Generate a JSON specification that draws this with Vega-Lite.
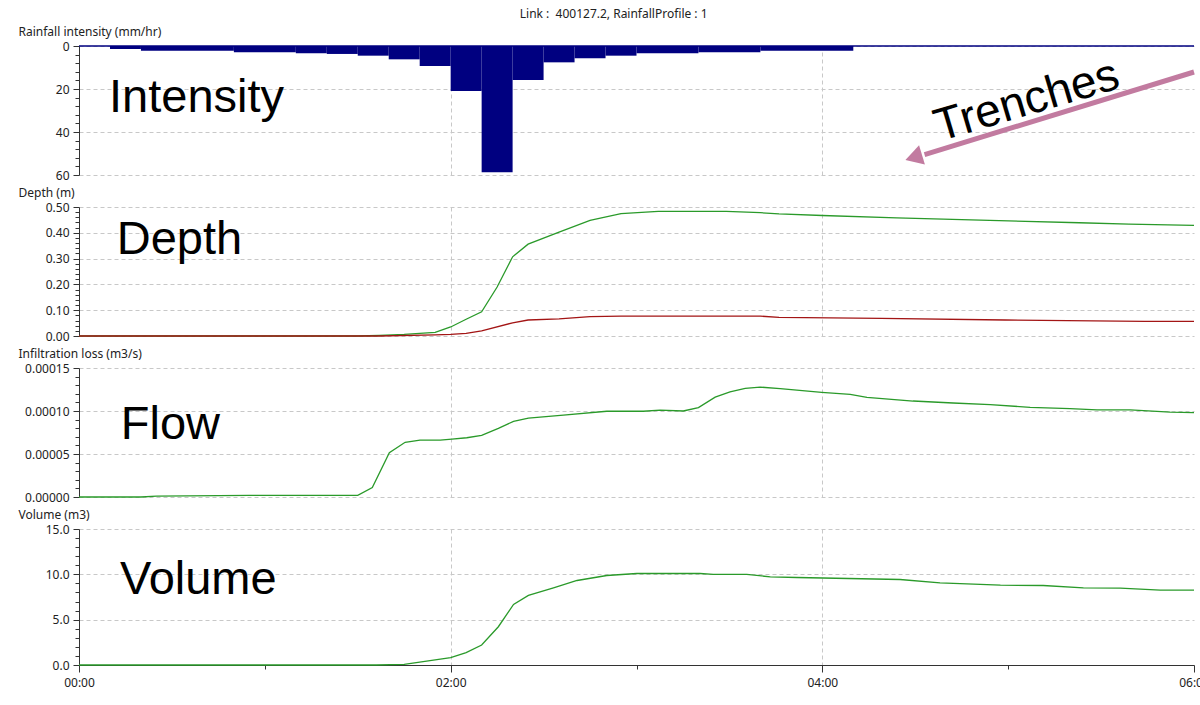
{
  "$schema": "https://vega.github.io/schema/vega-lite/v6.json",
  "background": "white",
  "padding": {"left": 18, "top": 8, "right": 0, "bottom": 12},
  "title": {"text": "Link : \u00a0400127.2, RainfallProfile : 1", "fontSize": 12, "font": "Noto Sans", "fontWeight": "normal", "color": "#222", "anchor": "middle", "offset": 4},
  "bounds": "flush",
  "spacing": 32,
  "resolve": {"scale": {"y": "independent"}},
  "config": {
    "view": {"stroke": null},
    "axis": {"labelFont": "Noto Sans", "labelFontSize": 12, "labelColor": "#222", "titleFont": "Noto Sans", "titleFontSize": 12, "titleFontWeight": "normal", "titleColor": "#222", "gridColor": "#c8c8c8", "gridDash": [4, 3], "domainColor": "#333", "tickColor": "#333", "labelPadding": 4, "labelOverlap": false, "tickSize": 5}
  },
  "datasets": {
    "rain": [
      {"t0": 10, "t1": 20, "v": 1.4}, {"t0": 20, "t1": 50, "v": 2.2}, {"t0": 50, "t1": 70, "v": 2.9},
      {"t0": 70, "t1": 80, "v": 3.4}, {"t0": 80, "t1": 90, "v": 3.7}, {"t0": 90, "t1": 100, "v": 4.5},
      {"t0": 100, "t1": 110, "v": 6.2}, {"t0": 110, "t1": 120, "v": 9.3}, {"t0": 120, "t1": 130, "v": 20.9},
      {"t0": 130, "t1": 140, "v": 58.7}, {"t0": 140, "t1": 150, "v": 15.8}, {"t0": 150, "t1": 160, "v": 7.6},
      {"t0": 160, "t1": 170, "v": 5.7}, {"t0": 170, "t1": 180, "v": 4.5}, {"t0": 180, "t1": 200, "v": 3.4},
      {"t0": 200, "t1": 220, "v": 2.9}, {"t0": 220, "t1": 250, "v": 2.2}
    ],
    "depthA": [
      {"t": 0, "v": 0}, {"t": 90, "v": 0}, {"t": 97, "v": 0.002}, {"t": 105, "v": 0.006}, {"t": 115, "v": 0.014},
      {"t": 120, "v": 0.035}, {"t": 125, "v": 0.065}, {"t": 130, "v": 0.094}, {"t": 135, "v": 0.19},
      {"t": 140, "v": 0.307}, {"t": 145, "v": 0.356}, {"t": 155, "v": 0.403}, {"t": 165, "v": 0.448},
      {"t": 175, "v": 0.474}, {"t": 187, "v": 0.483}, {"t": 209, "v": 0.483}, {"t": 220, "v": 0.478},
      {"t": 226, "v": 0.473}, {"t": 240, "v": 0.467}, {"t": 264, "v": 0.458}, {"t": 294, "v": 0.448},
      {"t": 323, "v": 0.439}, {"t": 339, "v": 0.434}, {"t": 360, "v": 0.429}
    ],
    "depthB": [
      {"t": 0, "v": 0}, {"t": 97, "v": 0}, {"t": 115, "v": 0.004}, {"t": 120, "v": 0.006}, {"t": 125, "v": 0.01},
      {"t": 130, "v": 0.02}, {"t": 140, "v": 0.051}, {"t": 145, "v": 0.062}, {"t": 155, "v": 0.066},
      {"t": 165, "v": 0.075}, {"t": 175, "v": 0.077}, {"t": 220, "v": 0.077}, {"t": 226, "v": 0.072},
      {"t": 259, "v": 0.068}, {"t": 299, "v": 0.062}, {"t": 344, "v": 0.057}, {"t": 360, "v": 0.057}
    ],
    "flow": [
      {"t": 0, "v": 0}, {"t": 20, "v": 0}, {"t": 25, "v": 0.000001}, {"t": 55, "v": 0.000002}, {"t": 90, "v": 0.000002},
      {"t": 94.7, "v": 0.000011}, {"t": 100.2, "v": 0.0000514}, {"t": 105.3, "v": 0.0000636}, {"t": 110.1, "v": 0.0000662},
      {"t": 116.6, "v": 0.0000662}, {"t": 120.4, "v": 0.0000674}, {"t": 125.2, "v": 0.0000689}, {"t": 130, "v": 0.0000717},
      {"t": 135.4, "v": 0.0000799}, {"t": 140.3, "v": 0.000088}, {"t": 145.1, "v": 0.0000918}, {"t": 156.4, "v": 0.0000953},
      {"t": 170.4, "v": 0.0000997}, {"t": 182.2, "v": 0.0000997}, {"t": 187.6, "v": 0.000101}, {"t": 195.1, "v": 0.0001},
      {"t": 200, "v": 0.0001039}, {"t": 205.4, "v": 0.0001161}, {"t": 210.2, "v": 0.0001223}, {"t": 215.1, "v": 0.0001262},
      {"t": 219.9, "v": 0.0001278}, {"t": 226.4, "v": 0.0001259}, {"t": 239.8, "v": 0.0001217}, {"t": 249, "v": 0.0001194},
      {"t": 254.4, "v": 0.0001159}, {"t": 269.3, "v": 0.0001116}, {"t": 282.2, "v": 0.0001093}, {"t": 294.2, "v": 0.0001073},
      {"t": 307.1, "v": 0.0001043}, {"t": 320, "v": 0.0001027}, {"t": 328.7, "v": 0.0001012}, {"t": 339.4, "v": 0.0001012},
      {"t": 352.3, "v": 0.0000988}, {"t": 360, "v": 0.000098}
    ],
    "volume": [
      {"t": 0, "v": 0}, {"t": 96, "v": 0}, {"t": 105, "v": 0.08}, {"t": 120, "v": 0.81}, {"t": 125, "v": 1.36},
      {"t": 130, "v": 2.2}, {"t": 135.4, "v": 4.22}, {"t": 140.3, "v": 6.68}, {"t": 145.1, "v": 7.67},
      {"t": 153.2, "v": 8.51}, {"t": 160.8, "v": 9.32}, {"t": 170.4, "v": 9.87}, {"t": 180.1, "v": 10.09},
      {"t": 200.5, "v": 10.09}, {"t": 204.8, "v": 10.0}, {"t": 215.6, "v": 10.0}, {"t": 223.2, "v": 9.72},
      {"t": 231.8, "v": 9.65}, {"t": 265.1, "v": 9.43}, {"t": 278, "v": 9.06}, {"t": 297.5, "v": 8.8},
      {"t": 311.3, "v": 8.77}, {"t": 324.3, "v": 8.51}, {"t": 336.2, "v": 8.47}, {"t": 349.1, "v": 8.25},
      {"t": 360, "v": 8.25}
    ]
  },
  "vconcat": [
    {
      "width": 1115, "height": 129,
      "layer": [
        {
          "data": {"name": "rain"},
          "mark": {"type": "bar", "color": "#000080"},
          "encoding": {
            "x": {"field": "t0", "type": "quantitative", "scale": {"domain": [0, 360], "nice": false},
                  "axis": {"title": null, "values": [120, 240], "labels": false, "ticks": false, "domain": false, "grid": true}},
            "x2": {"field": "t1"},
            "y": {"field": "v", "type": "quantitative", "scale": {"domain": [0, 60], "reverse": true, "nice": false},
                  "axis": {"title": "Rainfall intensity (mm/hr)", "titleAngle": 0, "titleAlign": "left", "titleBaseline": "middle", "titleX": -61, "titleY": -15,
                           "values": [0, 4, 8, 12, 16, 20, 24, 28, 32, 36, 40, 44, 48, 52, 56, 60], "tickCount": 100,
                           "format": "d",
                           "labelExpr": "datum.value % 20 == 0 ? datum.label : ''",
                           "tickSize": {"condition": {"test": "datum.value % 20 == 0", "value": 6}, "value": 4},
                           "gridOpacity": {"condition": {"test": "datum.value % 20 == 0", "value": 1}, "value": 0}}},
            "y2": {"datum": 0}
          }
        },
        {
          "data": {"values": [{}]},
          "mark": {"type": "rule", "color": "#000080", "strokeWidth": 1.5},
          "encoding": {"y": {"datum": 0}}
        },
        {
          "data": {"values": [{}]},
          "mark": {"type": "text", "font": "Liberation Sans", "fontSize": 47, "align": "left", "baseline": "alphabetic", "color": "black"},
          "encoding": {"x": {"datum": 9.7}, "y": {"datum": 30.6}, "text": {"value": "Intensity"}}
        },
        {
          "data": {"values": [{}]},
          "mark": {"type": "text", "font": "Liberation Sans", "fontSize": 46, "align": "center", "baseline": "middle", "angle": -16.5, "color": "black"},
          "encoding": {"x": {"datum": 306}, "y": {"datum": 25.6}, "text": {"value": "Trenches"}}
        },
        {
          "data": {"values": [{}]},
          "mark": {"type": "rule", "color": "#c27ba0", "strokeWidth": 5},
          "encoding": {"x": {"datum": 360}, "y": {"datum": 12.1}, "x2": {"datum": 273}, "y2": {"datum": 50.5}}
        },
        {
          "data": {"values": [{}]},
          "mark": {"type": "point", "shape": "triangle-up", "filled": true, "color": "#c27ba0", "opacity": 1, "size": 400, "angle": 253},
          "encoding": {"x": {"datum": 269.5}, "y": {"datum": 51.8}}
        }
      ]
    },
    {
      "width": 1115, "height": 129,
      "layer": [
        {
          "data": {"name": "depthA"},
          "mark": {"type": "line", "color": "#2a9a2a", "strokeWidth": 1.3},
          "encoding": {
            "x": {"field": "t", "type": "quantitative", "scale": {"domain": [0, 360], "nice": false},
                  "axis": {"title": null, "values": [120, 240], "labels": false, "ticks": false, "domain": false, "grid": true}},
            "y": {"field": "v", "type": "quantitative", "scale": {"domain": [0, 0.5], "nice": false},
                  "axis": {"title": "Depth (m)", "titleAngle": 0, "titleAlign": "left", "titleBaseline": "middle", "titleX": -61, "titleY": -15,
                           "values": [0, 0.02, 0.04, 0.06, 0.08, 0.1, 0.12, 0.14, 0.16, 0.18, 0.2, 0.22, 0.24, 0.26, 0.28, 0.3, 0.32, 0.34, 0.36, 0.38, 0.4, 0.42, 0.44, 0.46, 0.48, 0.5], "tickCount": 100,
                           "format": ".2f",
                           "labelExpr": "abs(datum.value * 10 - round(datum.value * 10)) < 0.000001 ? datum.label : ''",
                           "tickSize": {"condition": {"test": "abs(datum.value * 10 - round(datum.value * 10)) < 0.000001", "value": 6}, "value": 4},
                           "gridOpacity": {"condition": {"test": "abs(datum.value * 10 - round(datum.value * 10)) < 0.000001", "value": 1}, "value": 0}}}
          }
        },
        {
          "data": {"name": "depthB"},
          "mark": {"type": "line", "color": "#a31515", "strokeWidth": 1.3},
          "encoding": {
            "x": {"field": "t", "type": "quantitative"},
            "y": {"field": "v", "type": "quantitative"}
          }
        },
        {
          "data": {"values": [{}]},
          "mark": {"type": "text", "font": "Liberation Sans", "fontSize": 47, "align": "left", "baseline": "alphabetic", "color": "black"},
          "encoding": {"x": {"datum": 12.2}, "y": {"datum": 0.317}, "text": {"value": "Depth"}}
        }
      ]
    },
    {
      "width": 1115, "height": 129,
      "layer": [
        {
          "data": {"name": "flow"},
          "mark": {"type": "line", "color": "#2a9a2a", "strokeWidth": 1.3},
          "encoding": {
            "x": {"field": "t", "type": "quantitative", "scale": {"domain": [0, 360], "nice": false},
                  "axis": {"title": null, "values": [120, 240], "labels": false, "ticks": false, "domain": false, "grid": true}},
            "y": {"field": "v", "type": "quantitative", "scale": {"domain": [0, 0.00015], "nice": false},
                  "axis": {"title": "Infiltration loss (m3/s)", "titleAngle": 0, "titleAlign": "left", "titleBaseline": "middle", "titleX": -61, "titleY": -15,
                           "values": [0, 0.00001, 0.00002, 0.00003, 0.00004, 0.00005, 0.00006, 0.00007, 0.00008, 0.00009, 0.0001, 0.00011, 0.00012, 0.00013, 0.00014, 0.00015], "tickCount": 100,
                           "format": ".5f",
                           "labelExpr": "abs(datum.value * 20000 - round(datum.value * 20000)) < 0.000001 ? datum.label : ''",
                           "tickSize": {"condition": {"test": "abs(datum.value * 20000 - round(datum.value * 20000)) < 0.000001", "value": 6}, "value": 4},
                           "gridOpacity": {"condition": {"test": "abs(datum.value * 20000 - round(datum.value * 20000)) < 0.000001", "value": 1}, "value": 0}}}
          }
        },
        {
          "data": {"values": [{}]},
          "mark": {"type": "text", "font": "Liberation Sans", "fontSize": 47, "align": "left", "baseline": "alphabetic", "color": "black"},
          "encoding": {"x": {"datum": 13.5}, "y": {"datum": 0.0000671}, "text": {"value": "Flow"}}
        }
      ]
    },
    {
      "width": 1115, "height": 136,
      "layer": [
        {
          "data": {"name": "volume"},
          "mark": {"type": "line", "color": "#2a9a2a", "strokeWidth": 1.3},
          "encoding": {
            "x": {"field": "t", "type": "quantitative", "scale": {"domain": [0, 360], "nice": false},
                  "axis": {"title": null, "values": [0, 60, 120, 180, 240, 300, 360], "tickCount": 100, "labelFlush": false, "labelPadding": 5,
                           "labelExpr": "datum.value % 120 == 0 ? ((datum.value / 60 < 10 ? '0' : '') + (datum.value / 60) + ':00') : ''",
                           "tickSize": {"condition": {"test": "datum.value % 120 == 0", "value": 7}, "value": 4},
                           "gridOpacity": {"condition": {"test": "datum.value == 120 || datum.value == 240", "value": 1}, "value": 0}}},
            "y": {"field": "v", "type": "quantitative", "scale": {"domain": [0, 15], "nice": false},
                  "axis": {"title": "Volume (m3)", "titleAngle": 0, "titleAlign": "left", "titleBaseline": "middle", "titleX": -61, "titleY": -15,
                           "values": [0, 1, 2, 3, 4, 5, 6, 7, 8, 9, 10, 11, 12, 13, 14, 15], "tickCount": 100,
                           "format": ".1f",
                           "labelExpr": "datum.value % 5 == 0 ? datum.label : ''",
                           "tickSize": {"condition": {"test": "datum.value % 5 == 0", "value": 6}, "value": 4},
                           "gridOpacity": {"condition": {"test": "datum.value % 5 == 0", "value": 1}, "value": 0}}}
          }
        },
        {
          "data": {"values": [{}]},
          "mark": {"type": "text", "font": "Liberation Sans", "fontSize": 47, "align": "left", "baseline": "alphabetic", "color": "black"},
          "encoding": {"x": {"datum": 13.2}, "y": {"datum": 7.78}, "text": {"value": "Volume"}}
        }
      ]
    }
  ]
}
